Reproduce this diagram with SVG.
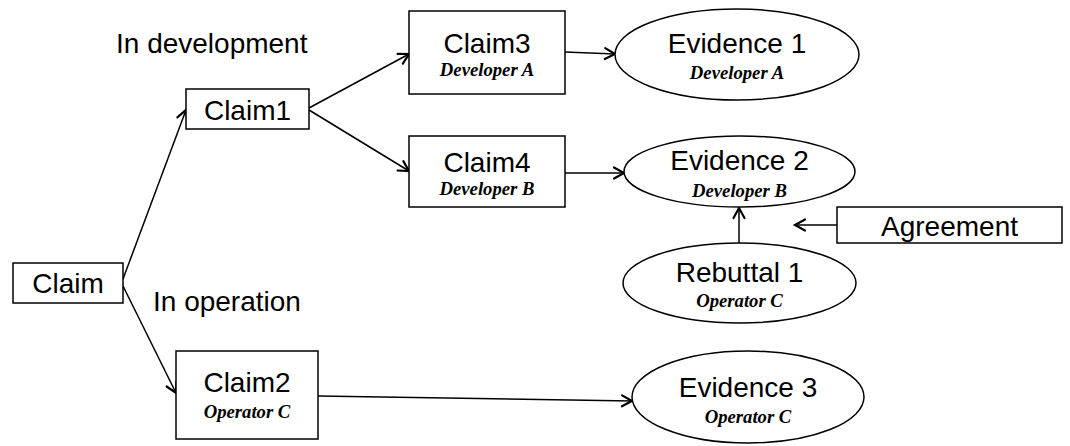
<svg xmlns="http://www.w3.org/2000/svg" width="1070" height="446" viewBox="0 0 1070 446">
  <defs>
    <style>
      .box { fill: #fff; stroke: #000; stroke-width: 1.5; }
      .main { font-family: "Liberation Sans", Arial, sans-serif; font-size: 28px; fill: #000; text-anchor: middle; }
      .label { font-family: "Liberation Sans", Arial, sans-serif; font-size: 28px; fill: #000; }
      .role { font-family: "Liberation Serif", "Times New Roman", serif; font-size: 18.7px; font-weight: bold; font-style: italic; fill: #000; text-anchor: middle; }
      .edge { fill: none; stroke: #000; stroke-width: 1.5; marker-end: url(#arrow); }
    </style>
    <marker id="arrow" markerUnits="userSpaceOnUse" markerWidth="14" markerHeight="14" refX="11" refY="6" orient="auto" overflow="visible">
      <path d="M1,0.5 L11,6 L1,11.5" fill="none" stroke="#000" stroke-width="2.2" stroke-linecap="round" stroke-linejoin="miter"/>
    </marker>
  </defs>

  <rect width="1070" height="446" fill="#fff"/>

  <!-- phase labels -->
  <text class="label" x="116" y="53">In development</text>
  <text class="label" x="153" y="311">In operation</text>

  <!-- connectors -->
  <g id="connectors">
    <line class="edge" x1="123" y1="279" x2="186" y2="110"/>
    <line class="edge" x1="123" y1="286" x2="176" y2="393"/>
    <line class="edge" x1="309" y1="108" x2="409" y2="54"/>
    <line class="edge" x1="309" y1="110" x2="409" y2="171"/>
    <line class="edge" x1="565" y1="52" x2="615" y2="54"/>
    <line class="edge" x1="565" y1="173" x2="624" y2="173"/>
    <line class="edge" x1="318" y1="396" x2="632" y2="401"/>
    <line class="edge" x1="739" y1="243" x2="739" y2="208"/>
    <line class="edge" x1="837" y1="225" x2="795" y2="225"/>
  </g>

  <g id="claim">
    <rect class="box" x="13" y="263" width="110" height="40"/>
    <text class="main" x="68" y="293">Claim</text>
  </g>

  <g id="claim1">
    <rect class="box" x="186" y="89" width="123" height="40"/>
    <text class="main" x="247.5" y="120">Claim1</text>
  </g>

  <g id="claim2">
    <rect class="box" x="176" y="351" width="142" height="88"/>
    <text class="main" x="247" y="392">Claim2</text>
    <text class="role" x="247" y="418">Operator C</text>
  </g>

  <g id="claim3">
    <rect class="box" x="409" y="11" width="156" height="83"/>
    <text class="main" x="487" y="53">Claim3</text>
    <text class="role" x="487" y="76">Developer A</text>
  </g>

  <g id="claim4">
    <rect class="box" x="409" y="136" width="156" height="71"/>
    <text class="main" x="487" y="172">Claim4</text>
    <text class="role" x="487" y="195">Developer B</text>
  </g>

  <g id="evidence1">
    <ellipse class="box" cx="737" cy="54.5" rx="122" ry="45.5"/>
    <text class="main" x="737" y="53">Evidence 1</text>
    <text class="role" x="737" y="79">Developer A</text>
  </g>

  <g id="evidence2">
    <ellipse class="box" cx="739.5" cy="171.5" rx="115.5" ry="35.5"/>
    <text class="main" x="739.5" y="170">Evidence 2</text>
    <text class="role" x="739.5" y="197">Developer B</text>
  </g>

  <g id="rebuttal1">
    <ellipse class="box" cx="739.5" cy="283" rx="116.5" ry="40"/>
    <text class="main" x="739.5" y="282">Rebuttal 1</text>
    <text class="role" x="739.5" y="307">Operator C</text>
  </g>

  <g id="evidence3">
    <ellipse class="box" cx="748" cy="397" rx="116" ry="46"/>
    <text class="main" x="748" y="397">Evidence 3</text>
    <text class="role" x="748" y="423">Operator C</text>
  </g>

  <g id="agreement">
    <rect class="box" x="837" y="207" width="225" height="36"/>
    <text class="main" x="949.5" y="236">Agreement</text>
  </g>
</svg>
